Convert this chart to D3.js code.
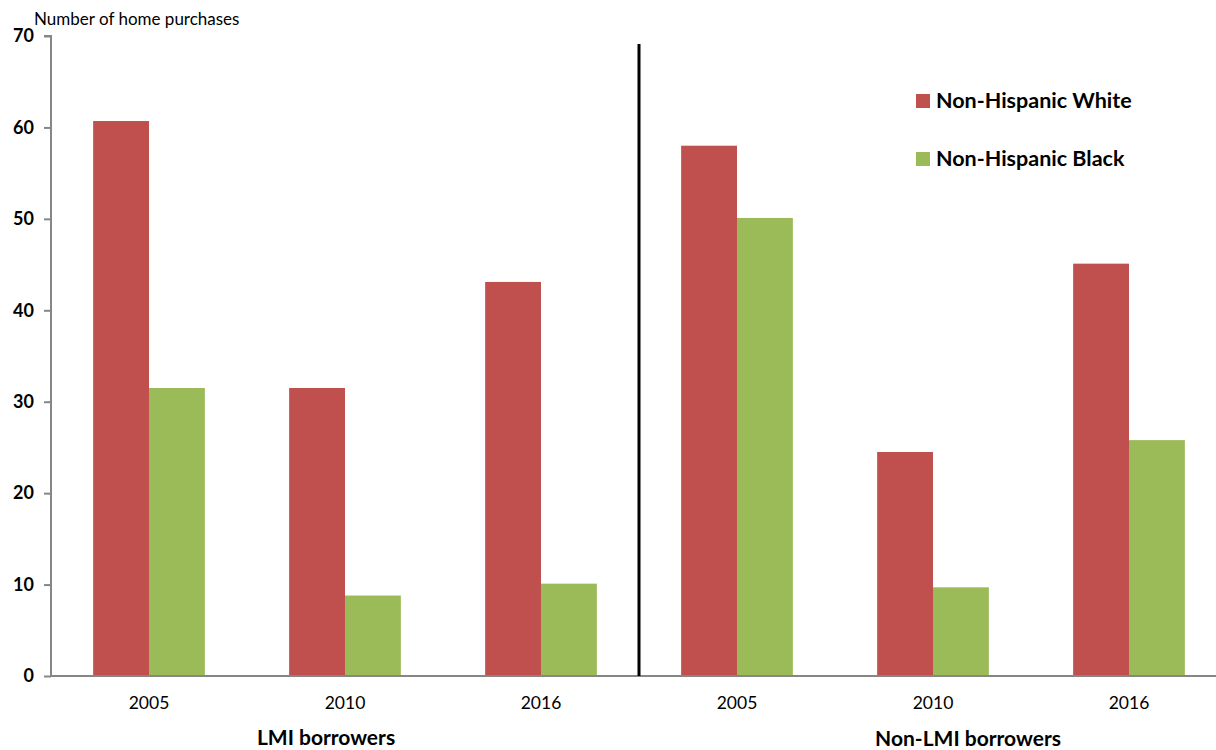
<!DOCTYPE html>
<html>
<head>
<meta charset="utf-8">
<script src="https://cdn.jsdelivr.net/npm/d3@7"></script>
<style>
  body { margin: 0; background: #fff; }
  #chart { width: 1216px; height: 750px; }
  text { font-family: Lato, "Open Sans", sans-serif; }
</style>
</head>
<body>
<div id="chart"></div>
<script>
const years = ["2005", "2010", "2016"];
const groups = ["LMI borrowers", "Non-LMI borrowers"];
const seriesNames = ["Non-Hispanic White", "Non-Hispanic Black"];
const whiteValues = [60.7, 31.5, 43.1, 58.0, 24.5, 45.1];
const blackValues = [31.5, 8.8, 10.1, 50.1, 9.7, 25.8];
const yTicks = [0, 10, 20, 30, 40, 50, 60, 70];

const colors = ["#c0504d", "#9bbb59"];
const w = 1216, h = 750;
const margin = { left: 51, right: -11, top: 36, bottom: 74 };

const svg = d3.select("#chart").append("svg")
  .attr("width", w)
  .attr("height", h);

// one slot per (group, year)
const slots = [];
groups.forEach((g, gi) => years.forEach((yr, yi) => {
  const i = gi * years.length + yi;
  slots.push({ key: `${g}|${yr}`, group: g, year: yr, values: [whiteValues[i], blackValues[i]] });
}));

const x = d3.scaleBand()
  .domain(slots.map(d => d.key))
  .range([margin.left, w - margin.right])
  .paddingInner(0.43)
  .paddingOuter(0.215);

const xInner = d3.scaleBand()
  .domain(seriesNames)
  .range([0, x.bandwidth()]);

const y = d3.scaleLinear()
  .domain([0, 70])
  .range([h - margin.bottom, margin.top]);

// bars
const slotG = svg.append("g").selectAll("g")
  .data(slots)
  .join("g")
  .attr("transform", d => `translate(${x(d.key)},0)`);

slotG.selectAll("rect")
  .data(d => d.values.map((v, i) => ({ name: seriesNames[i], value: v, i })))
  .join("rect")
  .attr("x", d => xInner(d.name))
  .attr("y", d => y(d.value))
  .attr("width", xInner.bandwidth())
  .attr("height", d => y(0) - y(d.value))
  .attr("fill", d => colors[d.i]);

// y axis
const yAxis = svg.append("g")
  .attr("transform", `translate(${margin.left},0)`)
  .call(d3.axisLeft(y).tickValues(yTicks).tickSize(7).tickPadding(10));
yAxis.select(".domain").attr("stroke", "#868686").attr("stroke-width", 2).attr("d", `M-7,${y(70)}H0V${y(0)}`);
yAxis.selectAll(".tick line").attr("stroke", "#868686").attr("stroke-width", 2);
yAxis.selectAll(".tick text")
  .attr("fill", "#000")
  .attr("font-size", 18)
  .attr("font-weight", "bold")
  .attr("font-family", "Lato, sans-serif");

// x baseline
svg.append("line")
  .attr("x1", margin.left)
  .attr("x2", w - margin.right)
  .attr("y1", y(0))
  .attr("y2", y(0))
  .attr("stroke", "#868686")
  .attr("stroke-width", 2);

// year labels
svg.append("g").selectAll("text")
  .data(slots)
  .join("text")
  .attr("x", d => x(d.key) + x.bandwidth() / 2)
  .attr("y", y(0) + 33)
  .attr("text-anchor", "middle")
  .attr("font-size", 17.5)
  .attr("fill", "#000")
  .text(d => d.year);

// group labels
const groupCenter = g => {
  const s = slots.filter(d => d.group === g);
  return (x(s[0].key) + x(s[s.length - 1].key) + x.bandwidth()) / 2;
};
svg.append("g").selectAll("text")
  .data(groups)
  .join("text")
  .attr("x", (d, i) => groupCenter(d) + (i === 0 ? -19 : 35))
  .attr("y", (d, i) => i === 0 ? 745 : 746)
  .attr("text-anchor", "middle")
  .attr("font-size", 21)
  .attr("font-weight", "bold")
  .attr("fill", "#000")
  .text(d => d);

// divider between groups
const lastLmi = slots[years.length - 1].key;
const firstNon = slots[years.length].key;
const divX = (x(lastLmi) + x.bandwidth() + x(firstNon)) / 2;
svg.append("line")
  .attr("x1", divX)
  .attr("x2", divX)
  .attr("y1", 44)
  .attr("y2", y(0))
  .attr("stroke", "#000")
  .attr("stroke-width", 3);

// axis title
svg.append("text")
  .attr("x", 34)
  .attr("y", 25)
  .attr("font-size", 17)
  .attr("fill", "#000")
  .text("Number of home purchases");

// legend
const legend = svg.append("g").selectAll("g")
  .data(seriesNames)
  .join("g")
  .attr("transform", (d, i) => `translate(916,${94 + i * 58})`);
legend.append("rect")
  .attr("width", 14)
  .attr("height", 14)
  .attr("fill", (d, i) => colors[i]);
legend.append("text")
  .attr("x", 20)
  .attr("y", 14)
  .attr("font-size", 21.5)
  .attr("font-weight", "bold")
  .attr("fill", "#000")
  .text(d => d);
</script>
</body>
</html>
